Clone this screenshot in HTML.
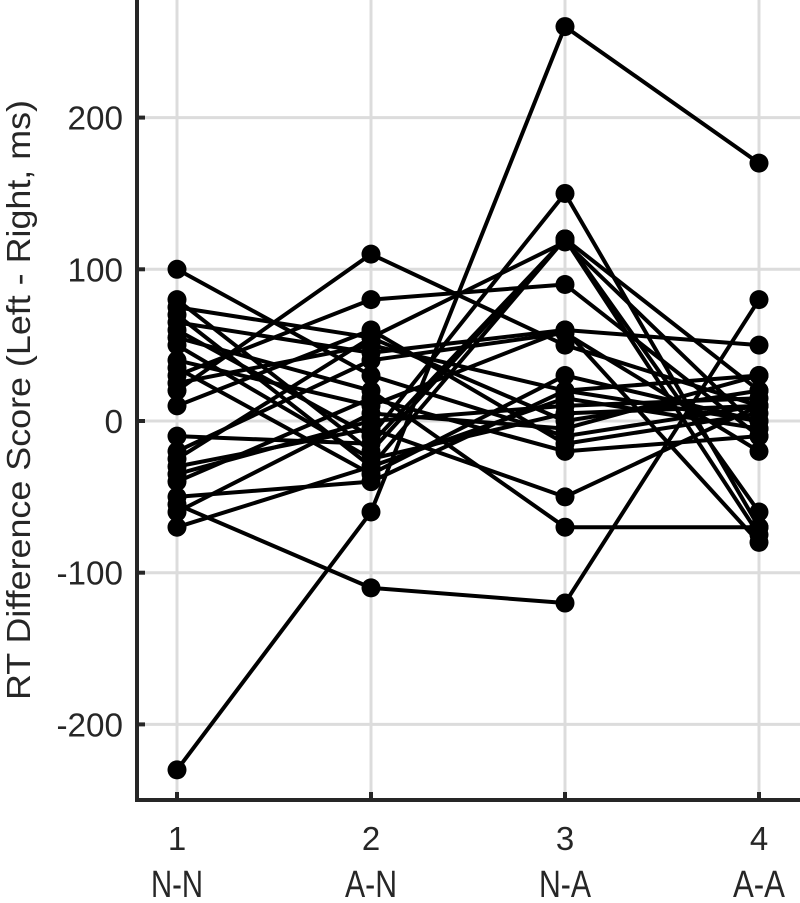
<!DOCTYPE html>
<html><head><meta charset="utf-8"><style>
html,body{margin:0;padding:0;background:#fff;}
svg{display:block;font-family:"Liberation Sans",Arial,sans-serif;}
</style></head><body>
<svg id="chart" width="800" height="903"></svg>
<script>
const categories = ["N-N","A-N","N-A","A-A"];
const xTickLabels = ["1","2","3","4"];
const yTicks = [-200,-100,0,100,200];
const subject01 = [-230,-60,260,170];
const subject02 = [100,30,-10,10];
const subject03 = [80,-20,120,-60];
const subject04 = [75,55,0,20];
const subject05 = [70,-30,120,-75];
const subject06 = [65,45,60,50];
const subject07 = [60,-10,150,-70];
const subject08 = [55,20,-70,-70];
const subject09 = [50,-25,5,10];
const subject10 = [40,10,60,-80];
const subject11 = [35,-35,30,0];
const subject12 = [30,80,90,-10];
const subject13 = [25,50,20,30];
const subject14 = [20,110,50,10];
const subject15 = [10,60,-15,5];
const subject16 = [-10,-15,120,20];
const subject17 = [-20,40,58,-20];
const subject18 = [-25,55,118,-5];
const subject19 = [-30,-5,-50,10];
const subject20 = [-35,0,10,15];
const subject21 = [-40,15,-20,-10];
const subject22 = [-50,-40,20,0];
const subject23 = [-55,-110,-120,80];
const subject24 = [-60,5,-5,30];
const subject25 = [-70,-30,15,-5];
const subjects = [subject01,subject02,subject03,subject04,subject05,subject06,subject07,subject08,subject09,subject10,subject11,subject12,subject13,subject14,subject15,subject16,subject17,subject18,subject19,subject20,subject21,subject22,subject23,subject24,subject25];

const NS="http://www.w3.org/2000/svg";
const svg=document.getElementById('chart');
const L=137,R=800,T=0,B=800;
const xs=i=>177+i*194;
const ys=v=>421-v*1.517;
function mk(tag,attrs,parent){const e=document.createElementNS(NS,tag);for(const k in attrs)e.setAttribute(k,attrs[k]);(parent||svg).appendChild(e);return e;}

yTicks.forEach(v=>{
  const g=mk('line',{x1:L,x2:R,y1:ys(v),y2:ys(v),stroke:'#dcdcdc','stroke-width':3});
  
  
});
categories.forEach((c,i)=>{
  const g=mk('line',{x1:xs(i),x2:xs(i),y1:T,y2:B,stroke:'#dcdcdc','stroke-width':3});
  
  
});
subjects.forEach((s,k)=>{
  const grp=mk('g',{});
  
  
  mk('polyline',{points:s.map((v,i)=>xs(i)+','+ys(v)).join(' '),fill:'none',stroke:'#000','stroke-width':4,'stroke-linejoin':'round'},grp);
  s.forEach((v,i)=>{
    const c=mk('circle',{cx:xs(i),cy:ys(v),r:9.5,fill:'#000'},grp);
    
    
  });
});
const ax=mk('path',{d:`M${L},${T} V${B} H${R}`,fill:'none',stroke:'#262626','stroke-width':4});


yTicks.forEach(v=>{
  mk('line',{x1:L,x2:L+8,y1:ys(v),y2:ys(v),stroke:'#262626','stroke-width':4});
  const s=String(v);
  const t=mk('text',{x:123,y:ys(v)+12,'text-anchor':'end','font-size':33,fill:'#262626',textLength:s.replace('-','').length*18.5+(v<0?11:0),lengthAdjust:'spacingAndGlyphs'});
  t.textContent=s;
  
  
});
categories.forEach((c,i)=>{
  mk('line',{x1:xs(i),x2:xs(i),y1:B,y2:B-8,stroke:'#262626','stroke-width':4});
  const t=mk('text',{x:xs(i),y:850,'text-anchor':'middle','font-size':33,fill:'#262626'});
  t.textContent=xTickLabels[i];
  
  
  const t2=mk('text',{x:xs(i),y:897,'text-anchor':'middle','font-size':38,fill:'#262626',textLength:52,lengthAdjust:'spacingAndGlyphs'});
  t2.textContent=c;
  
  
});
const yt=mk('text',{x:0,y:0,'text-anchor':'middle','font-size':33,fill:'#262626',textLength:600,lengthAdjust:'spacingAndGlyphs',transform:'translate(30,400) rotate(-90)'});
yt.textContent='RT Difference Score (Left - Right, ms)';


</script>
</body></html>
